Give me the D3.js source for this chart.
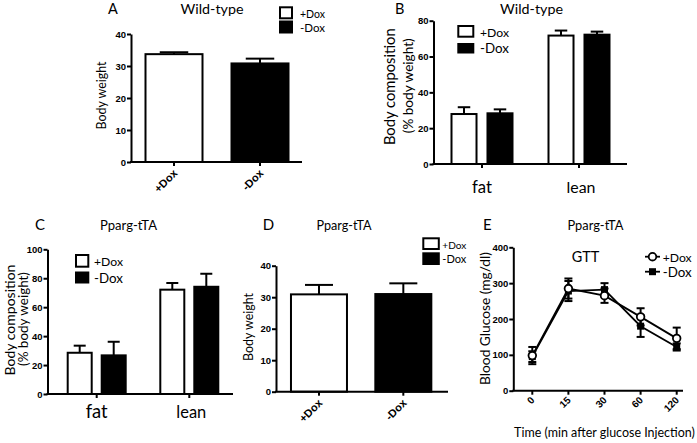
<!DOCTYPE html>
<html><head><meta charset="utf-8">
<script src="https://cdn.jsdelivr.net/npm/d3@7"></script>
<style>
body{margin:0;background:#fff}
svg{display:block}
text{font-family:Lato,"Open Sans",sans-serif;fill:#000}
.tick text{font-family:"Liberation Sans",Arial,sans-serif;font-weight:bold}
.rot{font-family:"Liberation Sans",Arial,sans-serif;font-weight:bold}
</style>
</head><body>
<svg id="chart" width="697" height="443"></svg>
<script>
// ---------- data ----------
const doxGroups = ["+Dox", "-Dox"];
const compCategories = ["fat", "lean"];

const wtBodyWeight = [33.7, 30.8];
const wtBodyWeightErr = [0.6, 1.5];

const wtCompPlus = [27.9, 71.7];
const wtCompPlusErr = [3.8, 2.8];
const wtCompMinus = [28.3, 72.2];
const wtCompMinusErr = [2.2, 1.7];

const ppCompPlus = [28.5, 72.1];
const ppCompPlusErr = [4.9, 4.6];
const ppCompMinus = [26.7, 74.1];
const ppCompMinusErr = [9.4, 9.0];

const ppBodyWeight = [30.9, 31.0];
const ppBodyWeightErr = [3.0, 3.4];

const gttTimes = ["0", "15", "30", "60", "120"];
const gttPlus = [98, 285, 265, 206, 146];
const gttPlusErr = [24, 28, 20, 24, 30];
const gttMinus = [95, 278, 282, 180, 122];
const gttMinusErr = [15, 28, 18, 30, 10];

const ticksBW = [0, 10, 20, 30, 40];
const ticksCompWT = [0, 20, 40, 60, 80];
const ticksCompPP = [0, 20, 40, 60, 80, 100];
const ticksGTT = [0, 100, 200, 300, 400];

// ---------- helpers ----------
const svg = d3.select("#chart");

function fit(sel, width, base) {
  sel.style("font-size", base + "px");
  const w = sel.node().getComputedTextLength();
  if (w > 0) sel.style("font-size", (base * width / w) + "px");
  return sel;
}

function addText(str, x, y, opts) {
  opts = opts || {};
  const g = svg.append("g").attr("transform", `translate(${x},${y})` + (opts.rotate ? ` rotate(${opts.rotate})` : ""));
  const t = g.append("text").text(str)
    .attr("x", 0).attr("y", 0)
    .attr("text-anchor", opts.anchor || "start");
  if (opts.width) fit(t, opts.width, opts.size || 14);
  else t.style("font-size", (opts.size || 14) + "px");
  if (opts.dy) t.attr("dy", opts.dy);
  return t;
}

const C45 = Math.SQRT1_2;
function rotatedTick(str, px, py, size) {
  svg.append("text").attr("class", "rot").text(str)
    .attr("text-anchor", "end")
    .attr("transform", `matrix(${C45},${-C45},${C45},${C45},${px},${py})`)
    .style("font-size", size + "px");
}

function yAxis(y, x0, ticks) {
  const g = svg.append("g").attr("transform", `translate(${x0},0)`)
    .call(d3.axisLeft(y).tickValues(ticks).tickSize(4).tickSizeOuter(0).tickPadding(1));
  g.select(".domain").attr("stroke-width", 2);
  g.selectAll(".tick line").attr("stroke-width", 2);
  g.selectAll(".tick text").style("font-size", "9.5px");
  return g;
}

function xBaseLine(x0, x1, y0, xs) {
  svg.append("line").attr("x1", x0 - 1).attr("x2", x1).attr("y1", y0).attr("y2", y0)
    .attr("stroke", "#000").attr("stroke-width", 2);
  svg.selectAll(null).data(xs).enter().append("line")
    .attr("x1", d => d).attr("x2", d => d).attr("y1", y0).attr("y2", y0 + 4)
    .attr("stroke", "#000").attr("stroke-width", 2);
}

function bar(cx, w, y, v, e, black) {
  const y0 = y(0), yt = y(v), ye = y(v + e), cap = w * 0.25;
  svg.append("line").attr("x1", cx).attr("x2", cx).attr("y1", yt).attr("y2", ye)
    .attr("stroke", "#000").attr("stroke-width", 2);
  svg.append("line").attr("x1", cx - cap).attr("x2", cx + cap).attr("y1", ye).attr("y2", ye)
    .attr("stroke", "#000").attr("stroke-width", 2);
  svg.append("rect").attr("x", cx - w / 2).attr("y", yt).attr("width", w).attr("height", y0 - yt)
    .attr("fill", black ? "#000" : "#fff").attr("stroke", "#000").attr("stroke-width", 2);
}

function legendBoxes(x, w, yW, hW, yB, hB, tx, ty1, ty2, tw) {
  svg.append("rect").attr("x", x).attr("y", yW).attr("width", w).attr("height", hW)
    .attr("fill", "#fff").attr("stroke", "#000").attr("stroke-width", 2);
  svg.append("rect").attr("x", x - 1).attr("y", yB).attr("width", w + 2).attr("height", hB)
    .attr("fill", "#000");
  addText(doxGroups[0], tx, ty1, {width: tw});
  addText(doxGroups[1], tx, ty2, {width: tw});
}

function simpleBarPanel(cfg) {
  const x = d3.scalePoint().domain(doxGroups).range(cfg.xRange).padding(0.5);
  const y = d3.scaleLinear().domain([0, cfg.max]).range([cfg.yBot, cfg.yTop]);
  doxGroups.forEach((g, i) => bar(x(g), cfg.barW, y, cfg.values[i], cfg.errs[i], i === 1));
  xBaseLine(cfg.axisX, cfg.axisEnd, cfg.yBot, doxGroups.map(g => x(g)));
  yAxis(y, cfg.axisX, cfg.ticks);
  doxGroups.forEach(g => rotatedTick(g, x(g) + 4, cfg.yBot + 12, 11));
}

function groupedBarPanel(cfg) {
  const x = d3.scalePoint().domain(compCategories).range(cfg.xRange).padding(0.5);
  const inner = d3.scaleBand().domain(doxGroups).range(cfg.innerRange).paddingInner(cfg.innerPad);
  const y = d3.scaleLinear().domain([0, cfg.max]).range([cfg.yBot, cfg.yTop]);
  const bw = inner.bandwidth();
  compCategories.forEach((c, ci) => {
    bar(x(c) + inner("+Dox") + bw / 2, bw, y, cfg.plus[ci], cfg.plusErr[ci], false);
    bar(x(c) + inner("-Dox") + bw / 2, bw, y, cfg.minus[ci], cfg.minusErr[ci], true);
  });
  xBaseLine(cfg.axisX, cfg.axisEnd, cfg.yBot, compCategories.map(c => x(c)));
  yAxis(y, cfg.axisX, cfg.ticks);
  compCategories.forEach(c => {
    addText(c, x(c) + (c === "lean" ? 2 : 0), cfg.labelY, {anchor: "middle", width: c === "lean" ? cfg.leanW : cfg.fatW, size: 16});
  });
}

// ---------- Panel A ----------
simpleBarPanel({xRange: [131, 303], yTop: 34, yBot: 162, max: 40, ticks: ticksBW,
  values: wtBodyWeight, errs: wtBodyWeightErr, barW: 57, axisX: 131, axisEnd: 302});
legendBoxes(280, 12, 7.3, 11, 20.5, 13, 300, 17.5, 31.5, 25);
addText("A", 108, 13.5, {size: 14.5});
addText("Wild-type", 212, 13.5, {anchor: "middle", width: 63, size: 15});
addText("Body weight", 102, 95.5, {anchor: "middle", width: 68, size: 13, rotate: -90, dy: "0.35em"});

// ---------- Panel B ----------
groupedBarPanel({xRange: [433.5, 627.5], innerRange: [-30.5, 30.5], innerPad: 0.305,
  yTop: 20.7, yBot: 164, max: 80, ticks: ticksCompWT,
  plus: wtCompPlus, plusErr: wtCompPlusErr, minus: wtCompMinus, minusErr: wtCompMinusErr,
  axisX: 433.5, axisEnd: 627, labelY: 193, leanW: 29, fatW: 20});
legendBoxes(458.3, 15, 26, 10.7, 43, 10.5, 480, 36.5, 53, 29);
addText("B", 395, 13.5, {size: 14.5});
addText("Wild-type", 531.5, 13.5, {anchor: "middle", width: 63, size: 15});
addText("Body composition", 390, 86.7, {anchor: "middle", width: 117, size: 15, rotate: -90, dy: "0.35em"});
addText("(% body weight)", 408, 85.8, {anchor: "middle", width: 95, size: 15, rotate: -90, dy: "0.35em"});

// ---------- Panel C ----------
groupedBarPanel({xRange: [50.4, 235.6], innerRange: [-29, 29], innerPad: 0.294,
  yTop: 249.3, yBot: 394, max: 100, ticks: ticksCompPP,
  plus: ppCompPlus, plusErr: ppCompPlusErr, minus: ppCompMinus, minusErr: ppCompMinusErr,
  axisX: 47.5, axisEnd: 233, labelY: 418, leanW: 30, fatW: 22});
legendBoxes(76, 12.3, 255, 11.7, 271.5, 12, 94, 266, 282.5, 29);
addText("C", 35, 230, {size: 15});
addText("Pparg-tTA", 128.5, 230, {anchor: "middle", width: 57, size: 15});
addText("Body composition", 10, 320, {anchor: "middle", width: 111, size: 15, rotate: -90, dy: "0.35em"});
addText("(% body weight)", 23.5, 319, {anchor: "middle", width: 94, size: 15, rotate: -90, dy: "0.35em"});

// ---------- Panel D ----------
simpleBarPanel({xRange: [276.8, 445.5], yTop: 265.7, yBot: 391.7, max: 40, ticks: ticksBW,
  values: ppBodyWeight, errs: ppBodyWeightErr, barW: 56, axisX: 276, axisEnd: 448});
legendBoxes(423.3, 15.5, 238.3, 10.7, 252.3, 12.7, 442.3, 248.5, 262.5, 24);
addText("D", 262.7, 230, {size: 15});
addText("Pparg-tTA", 344, 230, {anchor: "middle", width: 55, size: 15});
addText("Body weight", 248.5, 327, {anchor: "middle", width: 68, size: 13, rotate: -90, dy: "0.35em"});

// ---------- Panel E ----------
(function () {
  const x = d3.scalePoint().domain(gttTimes).range([532.3, 676.7]);
  const y = d3.scaleLinear().domain([0, 400]).range([390.7, 247.3]);
  const axisX = 513.3, yBot = 390.7;
  xBaseLine(axisX, 683, yBot, gttTimes.map(t => x(t)));
  yAxis(y, axisX, ticksGTT);
  gttTimes.forEach(t => rotatedTick(t, x(t) + 3, yBot + 10, 10));
  const line = d3.line().x((d, i) => x(gttTimes[i])).y(d => y(d));
  [gttPlus, gttMinus].forEach(s => {
    svg.append("path").attr("d", line(s)).attr("fill", "none")
      .attr("stroke", "#000").attr("stroke-width", 1.8);
  });
  [[gttPlus, gttPlusErr], [gttMinus, gttMinusErr]].forEach(([s, e]) => {
    s.forEach((v, i) => {
      const cx = x(gttTimes[i]);
      svg.append("line").attr("x1", cx).attr("x2", cx).attr("y1", y(v - e[i])).attr("y2", y(v + e[i]))
        .attr("stroke", "#000").attr("stroke-width", 2);
      [v - e[i], v + e[i]].forEach(b => {
        svg.append("line").attr("x1", cx - 4).attr("x2", cx + 4).attr("y1", y(b)).attr("y2", y(b))
          .attr("stroke", "#000").attr("stroke-width", 2);
      });
    });
  });
  gttMinus.forEach((v, i) => {
    svg.append("rect").attr("x", x(gttTimes[i]) - 3.5).attr("y", y(v) - 3.5)
      .attr("width", 7).attr("height", 7).attr("fill", "#000");
  });
  gttPlus.forEach((v, i) => {
    svg.append("circle").attr("cx", x(gttTimes[i])).attr("cy", y(v)).attr("r", 3.8)
      .attr("fill", "#fff").attr("stroke", "#000").attr("stroke-width", 1.8);
  });
  // legend
  svg.append("line").attr("x1", 645).attr("x2", 660).attr("y1", 256.7).attr("y2", 256.7).attr("stroke", "#000").attr("stroke-width", 1.8);
  svg.append("circle").attr("cx", 652.5).attr("cy", 256.7).attr("r", 3.8).attr("fill", "#fff").attr("stroke", "#000").attr("stroke-width", 1.8);
  svg.append("line").attr("x1", 645).attr("x2", 660).attr("y1", 271.7).attr("y2", 271.7).attr("stroke", "#000").attr("stroke-width", 1.8);
  svg.append("rect").attr("x", 649).attr("y", 268.2).attr("width", 7).attr("height", 7).attr("fill", "#000");
  addText(doxGroups[0], 662.7, 261.5, {width: 29});
  addText(doxGroups[1], 662.7, 276.5, {width: 29});

  addText("E", 483, 230, {size: 15});
  addText("Pparg-tTA", 595.5, 230, {anchor: "middle", width: 56, size: 15});
  addText("GTT", 585.5, 262.3, {anchor: "middle", width: 27.6, size: 18});
  addText("Blood Glucose (mg/dl)", 485, 318.5, {anchor: "middle", width: 133, size: 15, rotate: -90, dy: "0.35em"});
  addText("Time (min after glucose Injection)", 604.5, 436.5, {anchor: "middle", width: 181, size: 14});
})();
</script>
</body></html>
